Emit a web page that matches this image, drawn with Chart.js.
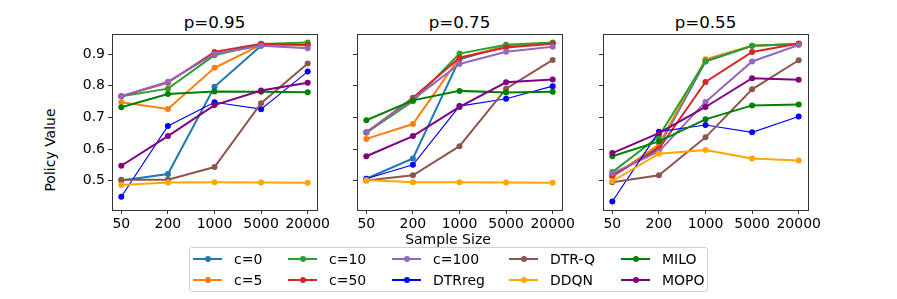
<!DOCTYPE html>
<html>
<head>
<meta charset="utf-8">
<script src="https://cdn.jsdelivr.net/npm/chart.js@4.4.0/dist/chart.umd.min.js"></script>
<style>
body { margin: 0; background: #fff; font-family: "DejaVu Sans", sans-serif; color: #000; }
#wrap { position: relative; width: 897px; height: 299px; overflow: hidden; }
.panel { position: absolute; top: 29px; }
.title { position: absolute; top: 12px; width: 205px; text-align: center; font-size: 16.7px; line-height: 20px; }
#xlabel { position: absolute; left: 348px; width: 200px; top: 231px; text-align: center; font-size: 14px; line-height: 16px; }
#ylabel { position: absolute; left: 50px; top: 150px; transform: translate(-50%, -50%) rotate(-90deg); font-size: 14px; white-space: nowrap; }
#legend { position: absolute; left: 189px; top: 247px; width: 519px; height: 45px; border: 1px solid #d0d0d0; border-radius: 3px; box-sizing: border-box;
  display: grid; grid-template-columns: 95px 104px 117px 112px auto; grid-auto-flow: column; grid-template-rows: 21px 21px; padding: 0 0 0 3px; font-size: 14px; }
.item { display: flex; align-items: center; }
.mark { position: relative; width: 29px; height: 2px; margin-right: 12px; }
.mark span { position: absolute; left: 11.5px; top: -2px; width: 6px; height: 6px; border-radius: 50%; }
</style>
</head>
<body>
<div id="wrap">
  <div class="title" style="left:112px">p=0.95</div>
  <div class="title" style="left:357px">p=0.75</div>
  <div class="title" style="left:603px">p=0.55</div>
  <canvas id="c1" class="panel" width="262" height="206" style="left:72px"></canvas>
  <canvas id="c2" class="panel" width="262" height="206" style="left:317px"></canvas>
  <canvas id="c3" class="panel" width="262" height="206" style="left:563px"></canvas>
  <div id="xlabel">Sample Size</div>
  <div id="ylabel">Policy Value</div>
  <div id="legend"></div>
</div>
<script>
// Data
const sizes = ['50', '200', '1000', '5000', '20000'];
const yTicks = [0.5, 0.6, 0.7, 0.8, 0.9];
const methods = ['c=0', 'c=5', 'c=10', 'c=50', 'c=100', 'DTRreg', 'DTR-Q', 'DDQN', 'MILO', 'MOPO'];
const colors = ['#1f77b4', '#ff7f0e', '#2ca02c', '#d62728', '#9467bd', '#0000ff', '#8c564b', '#ffa500', '#008000', '#800080'];

// p=0.95
const p95 = [
    [0.500, 0.521, 0.797, 0.927, 0.930],
    [0.748, 0.727, 0.857, 0.930, 0.928],
    [0.767, 0.791, 0.897, 0.932, 0.937],
    [0.767, 0.810, 0.907, 0.933, 0.929],
    [0.767, 0.813, 0.901, 0.927, 0.919],
    [0.449, 0.673, 0.748, 0.726, 0.845],
    [0.503, 0.503, 0.543, 0.745, 0.871],
    [0.486, 0.494, 0.495, 0.494, 0.493],
    [0.732, 0.774, 0.782, 0.781, 0.780],
    [0.547, 0.641, 0.739, 0.785, 0.810]
];
// p=0.75
const p75 = [
    [0.506, 0.570, 0.884, 0.927, 0.935],
    [0.632, 0.679, 0.889, 0.924, 0.934],
    [0.652, 0.751, 0.902, 0.930, 0.937],
    [0.652, 0.762, 0.889, 0.921, 0.933],
    [0.654, 0.757, 0.869, 0.908, 0.924],
    [0.506, 0.550, 0.736, 0.759, 0.799],
    [0.500, 0.517, 0.609, 0.791, 0.882],
    [0.502, 0.495, 0.495, 0.494, 0.493],
    [0.691, 0.754, 0.784, 0.779, 0.781],
    [0.577, 0.641, 0.733, 0.811, 0.820]
];
// p=0.55
const p55 = [
    [0.513, 0.608, 0.877, 0.927, 0.932],
    [0.513, 0.614, 0.884, 0.927, 0.932],
    [0.527, 0.640, 0.878, 0.927, 0.932],
    [0.516, 0.601, 0.812, 0.907, 0.934],
    [0.523, 0.592, 0.749, 0.877, 0.929],
    [0.434, 0.655, 0.676, 0.653, 0.703],
    [0.495, 0.517, 0.637, 0.789, 0.881],
    [0.498, 0.585, 0.597, 0.570, 0.564],
    [0.577, 0.624, 0.694, 0.738, 0.741],
    [0.587, 0.650, 0.733, 0.824, 0.819]
];

const font = { family: '"DejaVu Sans", sans-serif', size: 14 };

// draws the top and right spines
const frame = {
    id: 'frame',
    afterDraw(chart) {
        const a = chart.chartArea, ctx = chart.ctx;
        ctx.save();
        ctx.strokeStyle = '#333';
        ctx.lineWidth = 1;
        ctx.strokeRect(Math.round(a.left) + 0.5, Math.round(a.top) + 0.5, Math.round(a.right - a.left), Math.round(a.bottom - a.top));
        ctx.restore();
    }
};

function makePanel(id, series, showY) {
    const datasets = series.map((vals, i) => ({
        label: methods[i],
        data: vals.map((v, j) => ({ x: j, y: v })),
        borderColor: colors[i],
        backgroundColor: colors[i],
        pointBackgroundColor: colors[i],
        borderWidth: methods[i] == 'DTRreg' ? 1.2 : 2,
        pointRadius: 3,
        pointBorderWidth: 0,
        order: -i
    }));
    new Chart(document.getElementById(id), {
        type: 'line',
        data: { datasets: datasets },
        plugins: [frame],
        options: {
            responsive: false,
            animation: false,
            layout: { padding: { top: 5, right: 17, left: 0, bottom: 0 } },
            plugins: { legend: { display: false }, tooltip: { enabled: false } },
            scales: {
                x: {
                    type: 'linear', min: -0.2, max: 4.2,
                    afterBuildTicks: s => { s.ticks = sizes.map((_, j) => ({ value: j })); },
                    afterFit: s => { s.height = 25; s.paddingLeft = 0; s.paddingRight = 0; },
                    ticks: { callback: v => sizes[v], color: '#000', font: font, padding: 2, maxRotation: 0, autoSkip: false },
                    grid: { drawOnChartArea: false, tickLength: 4, color: '#333' },
                    border: { color: '#333' }
                },
                y: {
                    min: 0.407, max: 0.964,
                    afterBuildTicks: s => { s.ticks = yTicks.map(v => ({ value: v })); },
                    afterFit: s => { s.width = 40; s.paddingTop = 0; s.paddingBottom = 0; },
                    ticks: { callback: v => showY ? v.toFixed(1) : '', color: '#000', font: font, padding: 3 },
                    grid: { drawOnChartArea: false, tickLength: 4, color: '#333' },
                    border: { color: '#333' }
                }
            }
        }
    });
}

makePanel('c1', p95, true);
makePanel('c2', p75, false);
makePanel('c3', p55, false);

// Legend
const legend = document.getElementById('legend');
methods.forEach((m, i) => {
    const item = document.createElement('div');
    item.className = 'item';
    item.innerHTML = '<div class="mark" style="background:' + colors[i] + '"><span style="background:' + colors[i] + '"></span></div>' + m;
    legend.appendChild(item);
});
</script>
</body>
</html>
